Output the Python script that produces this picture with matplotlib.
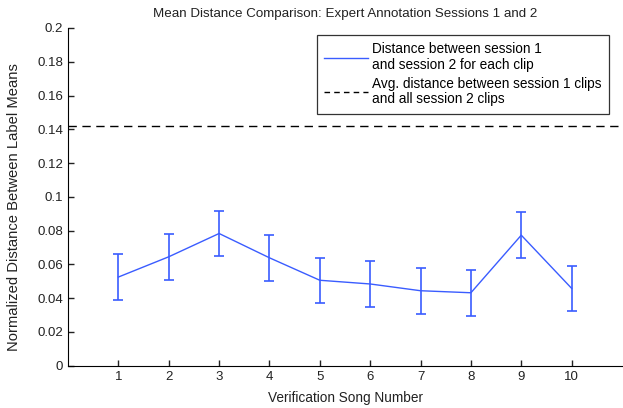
import matplotlib
matplotlib.use("Agg")
import numpy as np
from matplotlib import pyplot as plt
from matplotlib.lines import Line2D

plt.rcParams['font.family'] = ['Liberation Sans', 'DejaVu Sans']

# verification songs and the per-clip distances
songs = [1, 2, 3, 4, 5, 6, 7, 8, 9, 10]
dist = [0.0525, 0.0645, 0.0783, 0.0639, 0.0506, 0.0484, 0.0444, 0.0432, 0.0773, 0.0458]
err = [0.0135, 0.0135, 0.0135, 0.0136, 0.0134, 0.0135, 0.0135, 0.0135, 0.0135, 0.0134]
avg_dist = 0.1422

xticks = [1, 2, 3, 4, 5, 6, 7, 8, 9, 10]
yticks = [0, 0.02, 0.04, 0.06, 0.08, 0.1, 0.12, 0.14, 0.16, 0.18, 0.2]
yticklabels = ['0', '0.02', '0.04', '0.06', '0.08', '0.1', '0.12', '0.14', '0.16', '0.18', '0.2']
labels = ['Distance between session 1\nand session 2 for each clip',
          'Avg. distance between session 1 clips\nand all session 2 clips']

fig = plt.figure(figsize=(6.23, 4.08), dpi=100)
ax = fig.add_axes([68 / 623, (408 - 365.7) / 408, 554 / 623, 337.7 / 408])

blue = '#3a5cff'
txt = '#222222'
ax.errorbar(songs, dist, yerr=err, color=blue, lw=1.0, elinewidth=1.2,
            capsize=3.8, capthick=1.2)
ax.axhline(avg_dist, color='black', lw=1.0, dashes=(6, 4))

ax.set_xlim(0, 11)
ax.set_ylim(0, 0.2)
ax.set_xticks(xticks)
ax.set_yticks(yticks)
ax.set_yticklabels(yticklabels)
ax.tick_params(direction='in', length=4, labelsize=9.5, colors=txt, width=1)
ax.spines['top'].set_visible(False)
ax.spines['right'].set_visible(False)

ax.set_title('Mean Distance Comparison: Expert Annotation Sessions 1 and 2',
             fontsize=9.6, color=txt, pad=8)
ax.set_xlabel('Verification Song Number', fontsize=9.8, color=txt, labelpad=6)
ax.set_ylabel('Normalized Distance Between Label Means', fontsize=10.6, color=txt, labelpad=6)
ax.yaxis.set_label_coords(-0.085, 0.47)

handles = [Line2D([], [], color=blue, lw=1.0),
           Line2D([], [], color='black', lw=1.0, dashes=(4, 3))]
leg = ax.legend(handles, labels, loc='upper right',
                bbox_to_anchor=(609 / 623, (408 - 35) / 408),
                bbox_transform=fig.transFigure, fontsize=9.8, frameon=True,
                fancybox=False, edgecolor='black', handlelength=3.2,
                handletextpad=0.3, borderpad=0.55, labelspacing=0.4,
                borderaxespad=0)
for t in leg.get_texts():
    t.set_linespacing(1.1)
leg.get_frame().set_linewidth(0.9)

fig.savefig('out.png', dpi=100)
